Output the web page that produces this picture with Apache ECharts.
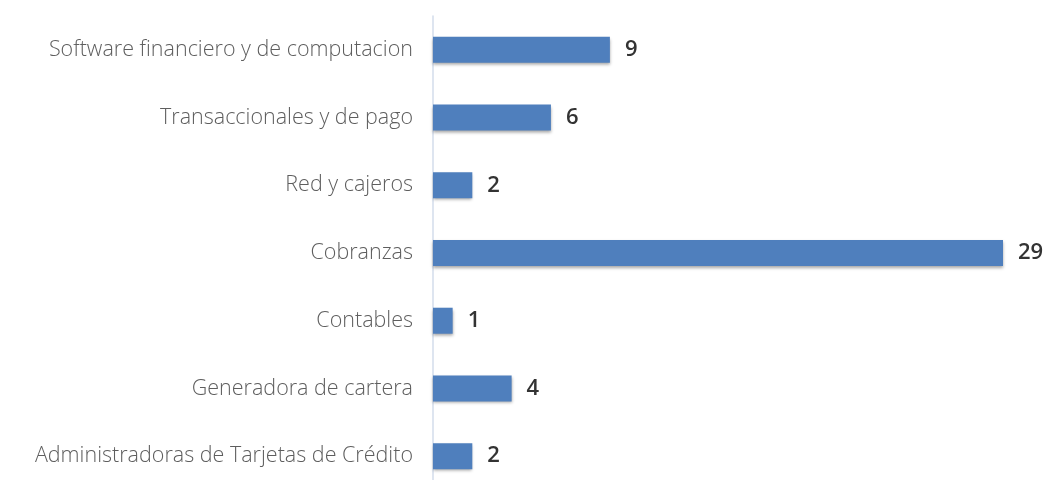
<!DOCTYPE html>
<html>
<head>
<meta charset="utf-8">
<script src="https://cdn.jsdelivr.net/npm/echarts@6/dist/echarts.min.js"></script>
<style>html,body{margin:0;padding:0;background:#fff;overflow:hidden;}#c{width:1054px;height:500px;}</style>
</head>
<body>
<div id="c"></div>
<script>
const categories = [
  "Software financiero y de computacion",
  "Transaccionales y de pago",
  "Red y cajeros",
  "Cobranzas",
  "Contables",
  "Generadora de cartera",
  "Administradoras de Tarjetas de Crédito"
];
const values = [9, 6, 2, 29, 1, 4, 2];

const chart = echarts.init(document.getElementById('c'));
chart.setOption({
  animation: false,
  backgroundColor: '#ffffff',
  grid: { left: 433, top: 16, width: 570, height: 474, containLabel: false },
  xAxis: { type: 'value', min: 0, max: 29, show: false },
  yAxis: {
    type: 'category',
    data: categories,
    inverse: true,
    axisLine: { show: true, lineStyle: { color: '#d3ddeb', width: 1.5 } },
    axisTick: { show: false },
    axisLabel: {
      margin: 20,
      color: '#5e5e5e',
      fontFamily: 'Open Sans',
      fontWeight: 300,
      fontSize: 21.5
    }
  },
  series: [{
    type: 'bar',
    data: values,
    barWidth: 26,
    itemStyle: {
      color: '#4f7fbd',
      shadowColor: 'rgba(0,0,0,0.35)',
      shadowBlur: 3,
      shadowOffsetY: 2
    },
    label: {
      show: true,
      position: 'right',
      distance: 15,
      color: '#333333',
      fontFamily: 'Open Sans',
      fontWeight: 600,
      fontSize: 22
    }
  }]
});
</script>
</body>
</html>
